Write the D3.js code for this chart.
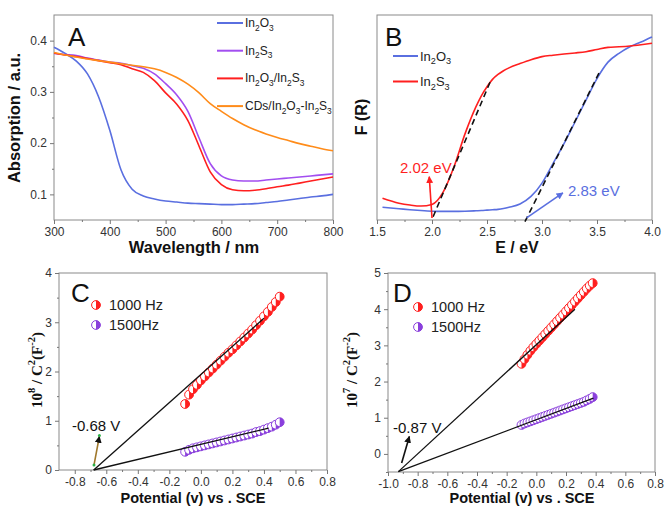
<!DOCTYPE html>
<html>
<head>
<meta charset="utf-8">
<script src="https://cdn.jsdelivr.net/npm/d3@7"></script>
<style>
  body { margin: 0; background: #fff; }
  svg { font-family: Arial, "Liberation Sans", sans-serif; }
  .tick text { fill: #333; font-size: 12px; }
  .tick line { stroke: #777; }
</style>
</head>
<body>
<script>
// ---- panel A : absorption spectra
const wavelength = [300, 320, 340, 360, 380, 400, 420, 440, 460, 480, 500, 520, 540, 560, 580, 600, 620, 640, 660, 680, 700, 720, 740, 760, 780, 800];
const absIn2O3 = [0.387, 0.375, 0.360, 0.335, 0.290, 0.225, 0.148, 0.110, 0.097, 0.091, 0.087, 0.085, 0.083, 0.082, 0.081, 0.080, 0.080, 0.081, 0.082, 0.084, 0.086, 0.089, 0.092, 0.095, 0.097, 0.100];
const absIn2S3 = [0.375, 0.373, 0.371, 0.366, 0.362, 0.358, 0.356, 0.351, 0.346, 0.335, 0.316, 0.294, 0.262, 0.210, 0.160, 0.136, 0.128, 0.126, 0.126, 0.128, 0.130, 0.132, 0.134, 0.136, 0.138, 0.140];
const absHetero = [0.376, 0.372, 0.369, 0.365, 0.361, 0.357, 0.353, 0.345, 0.338, 0.322, 0.298, 0.276, 0.244, 0.194, 0.144, 0.119, 0.109, 0.107, 0.108, 0.111, 0.115, 0.118, 0.122, 0.126, 0.130, 0.134];
const absCDs = [0.377, 0.372, 0.368, 0.364, 0.361, 0.358, 0.355, 0.352, 0.349, 0.345, 0.338, 0.328, 0.315, 0.298, 0.277, 0.262, 0.248, 0.236, 0.226, 0.218, 0.211, 0.205, 0.199, 0.194, 0.189, 0.185];
const seriesA = ["In2O3", "In2S3", "In2O3/In2S3", "CDs/In2O3-In2S3"];

// ---- panel B : Kubelka-Munk
const energy = [1.55, 1.7, 1.8, 1.9, 2.0, 2.1, 2.2, 2.3, 2.4, 2.45, 2.5, 2.55, 2.6, 2.65, 2.7, 2.8, 2.9, 3.0, 3.1, 3.2, 3.3, 3.4, 3.5, 3.6, 3.7, 3.8, 3.9, 4.0];
const frIn2O3 = [0.062, 0.055, 0.050, 0.046, 0.043, 0.042, 0.042, 0.043, 0.045, 0.046, 0.048, 0.050, 0.052, 0.056, 0.062, 0.078, 0.115, 0.180, 0.275, 0.372, 0.478, 0.585, 0.690, 0.770, 0.813, 0.845, 0.868, 0.893];
const frIn2S3 = [0.106, 0.082, 0.073, 0.068, 0.076, 0.135, 0.260, 0.420, 0.553, 0.607, 0.650, 0.686, 0.710, 0.728, 0.742, 0.763, 0.782, 0.797, 0.804, 0.810, 0.815, 0.821, 0.832, 0.842, 0.845, 0.849, 0.855, 0.862];
const tangentIn2S3 = [[2.01, 0.016], [2.53, 0.675]];
const tangentIn2O3 = [[2.845, -0.008], [3.53, 0.73]];

// ---- panel C : Mott-Schottky
const potentialC = [-0.1, -0.075, -0.05, -0.025, 0, 0.025, 0.05, 0.075, 0.1, 0.125, 0.15, 0.175, 0.2, 0.225, 0.25, 0.275, 0.3, 0.325, 0.35, 0.375, 0.4, 0.425, 0.45, 0.475, 0.5];
const c1000 = [1.34, 1.53, 1.64, 1.73, 1.82, 1.90, 1.98, 2.06, 2.14, 2.22, 2.30, 2.38, 2.45, 2.53, 2.61, 2.69, 2.77, 2.85, 2.94, 3.03, 3.12, 3.21, 3.31, 3.41, 3.52];
const c1500 = [0.37, 0.41, 0.44, 0.46, 0.48, 0.50, 0.52, 0.54, 0.56, 0.58, 0.60, 0.62, 0.64, 0.66, 0.68, 0.70, 0.72, 0.74, 0.77, 0.79, 0.82, 0.85, 0.88, 0.92, 0.97];
const fitC1000 = [[-0.68, 0], [0.4, 3.08]];
const fitC1500 = [[-0.68, 0], [0.43, 0.85]];

// ---- panel D : Mott-Schottky
const potentialD = [-0.1, -0.08, -0.06, -0.04, -0.02, 0, 0.02, 0.04, 0.06, 0.08, 0.1, 0.12, 0.14, 0.16, 0.18, 0.2, 0.22, 0.24, 0.26, 0.28, 0.3, 0.32, 0.34, 0.36, 0.38];
const d1000 = [2.49, 2.62, 2.74, 2.85, 2.95, 3.04, 3.13, 3.22, 3.31, 3.40, 3.49, 3.58, 3.67, 3.76, 3.85, 3.94, 4.03, 4.12, 4.21, 4.30, 4.39, 4.48, 4.57, 4.65, 4.72];
const d1500 = [0.80, 0.84, 0.87, 0.90, 0.93, 0.96, 0.99, 1.02, 1.05, 1.08, 1.11, 1.14, 1.17, 1.20, 1.23, 1.26, 1.29, 1.32, 1.35, 1.38, 1.41, 1.44, 1.48, 1.52, 1.57];
const fitD1000 = [[-0.93, -0.49], [0.26, 4.0]];
const fitD1500 = [[-0.93, -0.49], [0.385, 1.54]];
const freqLabels = ["1000 Hz", "1500Hz"];

// tick values
const ticksA_x = [300, 400, 500, 600, 700, 800];
const ticksA_y = [0.1, 0.2, 0.3, 0.4];
const ticksB_x = [1.5, 2.0, 2.5, 3.0, 3.5, 4.0];
const ticksC_x = [-0.8, -0.6, -0.4, -0.2, 0.0, 0.2, 0.4, 0.6, 0.8];
const ticksC_y = [0, 1, 2, 3, 4];
const ticksD_x = [-1.0, -0.8, -0.6, -0.4, -0.2, 0.0, 0.2, 0.4, 0.6, 0.8];
const ticksD_y = [0, 1, 2, 3, 4, 5];

const blue = "#5a6fe0", purpleA = "#a24ef0", red = "#ff1f1f", orange = "#ff8c1a", purple = "#8a3fdc";

const svg = d3.select("body").append("svg").attr("width", 665).attr("height", 508);

const defs = svg.append("defs");
[["arR", red], ["arB", blue], ["arK", "#111"]].forEach(([id, c]) => {
  defs.append("marker").attr("id", id).attr("viewBox", "0 0 10 10")
    .attr("refX", 9).attr("refY", 5).attr("markerWidth", 7).attr("markerHeight", 7)
    .attr("markerUnits", "userSpaceOnUse").attr("orient", "auto")
    .append("path").attr("d", "M0,0L10,5L0,10Z").attr("fill", c);
});

function panel(box, xd, yd) {
  const x = d3.scaleLinear().domain(xd).range([box.l, box.r]);
  const y = d3.scaleLinear().domain(yd).range([box.b, box.t]);
  const g = svg.append("g");
  g.append("rect").attr("x", box.l).attr("y", box.t)
    .attr("width", box.r - box.l).attr("height", box.b - box.t)
    .attr("fill", "none").attr("stroke", "#8a8a8a");
  return { g, x, y, box };
}

function axes(p, xt, xminor, yt, yminor, fmtX, fmtY) {
  p.g.append("g").attr("transform", `translate(0,${p.box.b})`)
    .call(d3.axisBottom(p.x).tickValues(xt).tickSize(4).tickPadding(3).tickFormat(fmtX));
  p.g.append("g").attr("transform", `translate(0,${p.box.b})`)
    .call(d3.axisBottom(p.x).tickValues(xminor).tickSize(2).tickFormat(""));
  if (yt) {
    p.g.append("g").attr("transform", `translate(${p.box.l},0)`)
      .call(d3.axisLeft(p.y).tickValues(yt).tickSize(4).tickPadding(3).tickFormat(fmtY));
    p.g.append("g").attr("transform", `translate(${p.box.l},0)`)
      .call(d3.axisLeft(p.y).tickValues(yminor).tickSize(2).tickFormat(""));
  }
  p.g.selectAll(".domain").remove();
}

// text with sub/superscripts: parts = [[text, kind]]
function rich(t, parts, fs) {
  let shift = 0;
  parts.forEach(([s, k]) => {
    const target = k === "sub" ? fs * 0.3 : k === "sup" ? -fs * 0.45 : 0;
    t.append("tspan").attr("dy", target - shift)
      .attr("font-size", k ? fs * 0.7 : fs).text(s);
    shift = target;
  });
}
const chem = {
  "In2O3": [["In"], ["2", "sub"], ["O"], ["3", "sub"]],
  "In2S3": [["In"], ["2", "sub"], ["S"], ["3", "sub"]]
};
chem["In2O3/In2S3"] = [...chem["In2O3"], ["/In"], ["2", "sub"], ["S"], ["3", "sub"]];
chem["CDs/In2O3-In2S3"] = [["CDs/"], ...chem["In2O3"], ["-"], ...chem["In2S3"]];

function xy(xs, ys) { return xs.map((v, i) => [v, ys[i]]); }

function label(g, x, y, txt, fs, opts = {}) {
  return g.append("text").attr("x", x).attr("y", y)
    .attr("font-size", fs).attr("font-weight", opts.bold ? "bold" : null)
    .attr("text-anchor", opts.anchor || "start").attr("fill", opts.fill || "#111")
    .text(txt);
}

// ================= A
const A = panel({ l: 54, r: 333, t: 15, b: 220 }, [300, 800], [0.05, 0.45]);
axes(A, ticksA_x, [350, 450, 550, 650, 750], ticksA_y, [0.15, 0.25, 0.35], d => d, d => d.toFixed(1));
const lineA = d3.line().x(d => A.x(d[0])).y(d => A.y(d[1])).curve(d3.curveMonotoneX);
const curvesA = [absIn2O3, absIn2S3, absHetero, absCDs];
const colorsA = [blue, purpleA, red, orange];
curvesA.forEach((s, i) => {
  A.g.append("path").datum(xy(wavelength, s)).attr("fill", "none")
    .attr("stroke", colorsA[i]).attr("stroke-width", 1.6).attr("d", lineA);
});
seriesA.forEach((name, i) => {
  const yy = 23 + i * 27.7;
  A.g.append("line").attr("x1", 217).attr("x2", 243).attr("y1", yy).attr("y2", yy)
    .attr("stroke", colorsA[i]).attr("stroke-width", 2);
  rich(A.g.append("text").attr("x", 245).attr("y", yy + 4).attr("fill", "#222"), chem[name], 12);
});
label(A.g, 68, 46, "A", 26);
label(svg, 194, 253, "Wavelength / nm", 16.5, { bold: true, anchor: "middle" });
label(svg, 0, 0, "Absorption / a.u.", 16.5, { bold: true, anchor: "middle" })
  .attr("transform", "translate(20,118) rotate(-90)");

// ================= B
const B = panel({ l: 377, r: 652, t: 15, b: 220 }, [1.5, 4.0], [0, 1]);
axes(B, ticksB_x, [1.75, 2.25, 2.75, 3.25, 3.75], null, null, d => d.toFixed(1));
const lineB = d3.line().x(d => B.x(d[0])).y(d => B.y(d[1])).curve(d3.curveMonotoneX);
B.g.append("path").datum(xy(energy, frIn2O3)).attr("fill", "none").attr("stroke", blue).attr("stroke-width", 1.6).attr("d", lineB);
B.g.append("path").datum(xy(energy, frIn2S3)).attr("fill", "none").attr("stroke", red).attr("stroke-width", 1.6).attr("d", lineB);
[tangentIn2S3, tangentIn2O3].forEach(t => {
  B.g.append("path").datum(t).attr("fill", "none").attr("stroke", "#111")
    .attr("stroke-width", 1.6).attr("stroke-dasharray", "6,4")
    .attr("d", d3.line().x(d => B.x(d[0])).y(d => B.y(d[1])));
});
[["In2O3", blue], ["In2S3", red]].forEach(([name, c], i) => {
  const yy = 56 + i * 25.5;
  B.g.append("line").attr("x1", 393).attr("x2", 418).attr("y1", yy).attr("y2", yy).attr("stroke", c).attr("stroke-width", 2);
  rich(B.g.append("text").attr("x", 420).attr("y", yy + 4.5).attr("fill", "#222"), chem[name], 13);
});
B.g.append("line").attr("x1", B.x(2.0)).attr("y1", B.y(0.01)).attr("x2", B.x(1.975)).attr("y2", B.y(0.211))
  .attr("stroke", red).attr("stroke-width", 1.6).attr("marker-end", "url(#arR)");
B.g.append("line").attr("x1", B.x(2.86)).attr("y1", B.y(0.01)).attr("x2", B.x(3.19)).attr("y2", B.y(0.132))
  .attr("stroke", blue).attr("stroke-width", 1.6).attr("marker-end", "url(#arB)");
label(B.g, B.x(1.709), B.y(0.23), "2.02 eV", 15, { fill: red });
label(B.g, B.x(3.236), B.y(0.117), "2.83 eV", 15, { fill: blue });
label(B.g, 385, 46, "B", 26);
label(svg, 517, 253, "E / eV", 16, { bold: true, anchor: "middle" });
label(svg, 0, 0, "F (R)", 16, { bold: true, anchor: "middle" })
  .attr("transform", "translate(367,117) rotate(-90)");

// ================= C & D shared drawing
const R = 4.4;
function halfCircles(p, pts, color) {
  const m = p.g.append("g").selectAll("g").data(pts).join("g")
    .attr("transform", d => `translate(${p.x(d[0])},${p.y(d[1])})`);
  m.append("circle").attr("r", R).attr("fill", "#fff").attr("stroke", color).attr("stroke-width", 1);
  m.append("path").attr("d", `M0,${-R}A${R},${R} 0 0 1 0,${R}Z`).attr("fill", color);
}
function fit(p, seg) {
  p.g.append("path").datum(seg).attr("fill", "none").attr("stroke", "#111").attr("stroke-width", 1.3)
    .attr("d", d3.line().x(d => p.x(d[0])).y(d => p.y(d[1])));
}
function legendMS(p, x0, y0) {
  [red, purple].forEach((c, i) => {
    const yy = y0 + i * 20;
    const m = p.g.append("g").attr("transform", `translate(${x0},${yy})`);
    m.append("circle").attr("r", R).attr("fill", "#fff").attr("stroke", c);
    m.append("path").attr("d", `M0,${-R}A${R},${R} 0 0 1 0,${R}Z`).attr("fill", c);
    label(p.g, x0 + 13, yy + 5, freqLabels[i], 14.5, { fill: "#222" });
  });
}
function yTitleMS(cx, cy, power) {
  const t = svg.append("text").attr("transform", `translate(${cx},${cy}) rotate(-90)`)
    .attr("text-anchor", "middle").attr("font-family", "'Liberation Serif','Times New Roman',serif")
    .attr("font-weight", "bold").attr("fill", "#111");
  rich(t, [["10"], [power, "sup"], [" / C"], ["2", "sup"], ["(F"], ["-2", "sup"], [")"]], 15);
}

// ================= C
const C = panel({ l: 59, r: 327, t: 273, b: 470 }, [-0.9, 0.8], [0, 4]);
axes(C, ticksC_x, [-0.7, -0.5, -0.3, -0.1, 0.1, 0.3, 0.5, 0.7], ticksC_y, [0.5, 1.5, 2.5, 3.5], d => d.toFixed(1), d => d);
halfCircles(C, xy(potentialC, c1000), red);
halfCircles(C, xy(potentialC, c1500), purple);
fit(C, fitC1000);
fit(C, fitC1500);
C.g.append("line").attr("x1", C.x(-0.678)).attr("y1", C.y(0.1)).attr("x2", C.x(-0.644)).attr("y2", C.y(0.68))
  .attr("stroke", "#a0782c").attr("stroke-width", 1.6).attr("marker-end", "url(#arK)");
[[-0.678, 0.1], [-0.644, 0.7]].forEach(d => C.g.append("circle").attr("cx", C.x(d[0])).attr("cy", C.y(d[1])).attr("r", 1.5).attr("fill", "#2db04a"));
label(C.g, C.x(-0.818), C.y(0.79), "-0.68 V", 15);
legendMS(C, 96, 305);
label(C.g, 71, 302, "C", 26);
label(svg, 193, 503, "Potential (v) vs . SCE", 14.5, { bold: true, anchor: "middle" });
yTitleMS(42, 370, "8");

// ================= D
const D = panel({ l: 388, r: 655, t: 273, b: 472 }, [-1.0, 0.8], [-0.5, 5]);
axes(D, ticksD_x, [-0.9, -0.7, -0.5, -0.3, -0.1, 0.1, 0.3, 0.5, 0.7], ticksD_y, [-0.5, 0.5, 1.5, 2.5, 3.5, 4.5], d => d.toFixed(1), d => d);
halfCircles(D, xy(potentialD, d1000), red);
halfCircles(D, xy(potentialD, d1500), purple);
fit(D, fitD1000);
fit(D, fitD1500);
D.g.append("line").attr("x1", D.x(-0.908)).attr("y1", D.y(-0.25)).attr("x2", D.x(-0.856)).attr("y2", D.y(0.48))
  .attr("stroke", "#111").attr("stroke-width", 1.6).attr("marker-end", "url(#arK)");
label(D.g, D.x(-0.966), D.y(0.58), "-0.87 V", 15);
legendMS(D, 418, 307);
label(D.g, 393, 302, "D", 26);
label(svg, 522, 503, "Potential (v) vs . SCE", 14.5, { bold: true, anchor: "middle" });
yTitleMS(357, 370, "7");
</script>
</body>
</html>
